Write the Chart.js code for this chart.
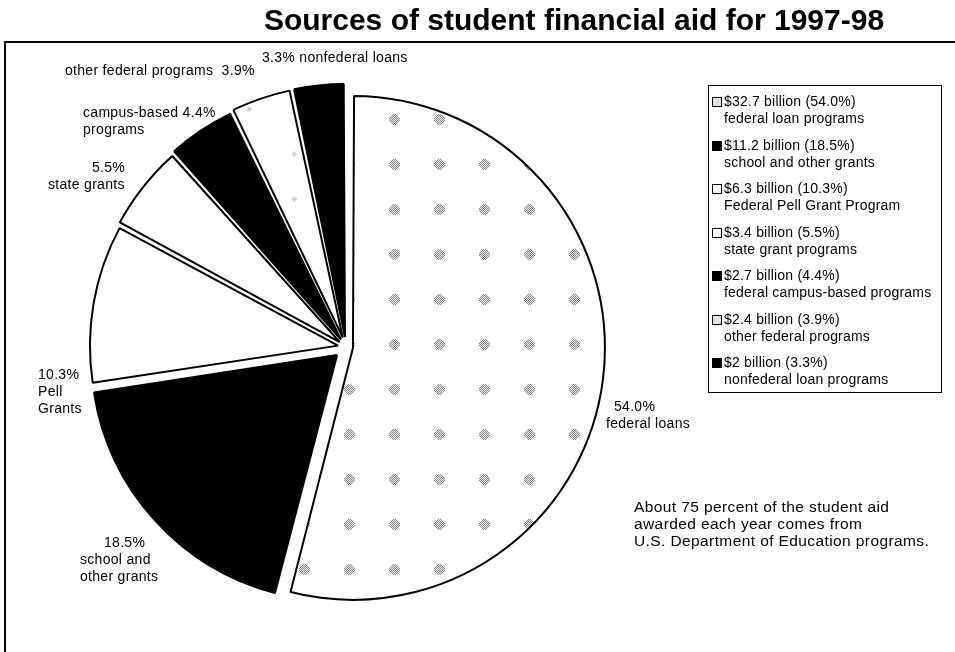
<!DOCTYPE html>
<html lang="en">
<head>
<meta charset="utf-8">
<title>Sources of student financial aid for 1997-98</title>
<script src="https://cdn.jsdelivr.net/npm/chart.js@4/dist/chart.umd.min.js"></script>
<style>
  body { margin: 0; background: #fff; font-family: "Liberation Sans", Arial, sans-serif; color: #000; }
  #wrap { position: relative; width: 955px; height: 652px; overflow: hidden; }
  #grafico-box { position: absolute; left: 0; top: 0; width: 955px; height: 652px; }
  #titulo { position: absolute; left: 0; top: 3px; width: 1148px; text-align: center; font-weight: bold; font-size: 30px; line-height: 34px; }
  #moldura { position: absolute; left: 4px; top: 41px; width: 1000px; height: 700px; border-top: 2px solid #000; border-left: 2px solid #000; }
  .rotulo { position: absolute; font-size: 14px; letter-spacing: 0.3px; line-height: 17px; white-space: nowrap; }
  #legenda { position: absolute; left: 708px; top: 85px; width: 232px; height: 306px; border: 1.5px solid #000; font-size: 14px; letter-spacing: 0.2px; line-height: 17px; }
  .item { position: absolute; left: 3px; white-space: nowrap; }
  .item .sq { display: inline-block; width: 8px; height: 8px; border: 1px solid #000; margin-right: 2px; vertical-align: -1px; }
  .item .l2 { padding-left: 12px; }
  #nota { position: absolute; left: 634px; top: 498px; font-size: 15.5px; letter-spacing: 0.4px; line-height: 17px; white-space: nowrap; }
</style>
</head>
<body>
<div id="wrap">
  <div id="moldura"></div>
  <div id="grafico-box"><canvas id="grafico"></canvas></div>
  <div id="titulo">Sources of student financial aid for 1997-98</div>
  <div id="legenda"></div>
  <div id="nota">About 75 percent of the student aid<br>awarded each year comes from<br>U.S. Department of Education programs.</div>
</div>
<script>
// dados (ordem horária a partir do topo)
const categorias = ['federal loan programs', 'school and other grants', 'Federal Pell Grant Program',
  'state grant programs', 'federal campus-based programs', 'other federal programs', 'nonfederal loan programs'];
const bilhoes = ['32.7', '11.2', '6.3', '3.4', '2.7', '2.4', '2'];
const percentuais = [54.0, 18.5, 10.3, 5.5, 4.4, 3.9, 3.3];
const rotulosFatia = [
  ['54.0%', 'federal loans'],
  ['18.5%', 'school and', 'other grants'],
  ['10.3%', 'Pell', 'Grants'],
  ['5.5%', 'state grants'],
  ['campus-based 4.4%', 'programs'],
  ['other federal programs  3.9%'],
  ['3.3% nonfederal loans']
];

// estilo: posição dos rótulos, deslocamento das fatias, preenchimento
const posRotulos = [
  { left: 606, top: 398, align: [8, 0] },
  { left: 80, top: 534, align: [24, 0, 0] },
  { left: 38, top: 366 },
  { left: 48, top: 159, align: [44, 0] },
  { left: 83, top: 104 },
  { left: 65, top: 62 },
  { left: 262, top: 49 }
];
// Chart.js v4 desloca o arco em offset/4 (e aumenta o raio na mesma medida)
const deslocamentos = [28, 48, 32, 32, 36, 40, 40];
const tipoPreench = ['denso', 'preto', 'branco', 'branco', 'preto', 'leve', 'preto'];

/** textura pontilhada (meio-tom) das fatias de empréstimos federais */
function criarPadrao(intensidade) {
  const c = document.createElement('canvas');
  c.width = 45; c.height = 45;
  const g = c.getContext('2d');
  g.fillStyle = '#fff';
  g.fillRect(0, 0, 45, 45);
  const raio = intensidade === 'denso' ? 5.5 : 2.5;
  g.fillStyle = intensidade === 'denso' ? '#7a7a7a' : '#a8a8a8';
  for (let dx = -6; dx <= 6; dx++) {
    for (let dy = -6; dy <= 6; dy++) {
      if (dx * dx + dy * dy <= raio * raio && (dx + dy) % 2 === 0) g.fillRect(27 + dx, 28 + dy, 1, 1);
    }
  }
  return g.createPattern(c, 'repeat');
}

const cores = { preto: '#000', branco: '#fff' };
const preench = tipoPreench.map(t => (t === 'denso' || t === 'leve') ? criarPadrao(t) : cores[t]);

// legenda em HTML
const leg = document.getElementById('legenda');
categorias.forEach((cat, i) => {
  const d = document.createElement('div');
  d.className = 'item';
  d.style.top = (7 + i * 43.5) + 'px';
  const fundo = tipoPreench[i] === 'preto' ? '#000' : (tipoPreench[i] === 'branco' ? '#fff' : '#e2e2e2');
  d.innerHTML = `<span class="sq" style="background:${fundo}"></span>$${bilhoes[i]} billion (${percentuais[i].toFixed(1)}%)<br><span class="l2">${cat}</span>`;
  leg.appendChild(d);
});

// rótulos das fatias
const wrap = document.getElementById('wrap');
rotulosFatia.forEach((linhas, i) => {
  const d = document.createElement('div');
  d.className = 'rotulo';
  d.style.left = posRotulos[i].left + 'px';
  d.style.top = posRotulos[i].top + 'px';
  d.innerHTML = linhas.map((t, k) => {
    const pad = posRotulos[i].align ? posRotulos[i].align[k] : 0;
    return `<div style="padding-left:${pad}px">${t.replace(/  /g, '&nbsp;&nbsp;')}</div>`;
  }).join('');
  wrap.appendChild(d);
});

new Chart(document.getElementById('grafico'), {
  type: 'pie',
  data: {
    labels: categorias,
    datasets: [{
      data: percentuais,
      backgroundColor: preench,
      borderColor: '#000',
      borderWidth: 2,
      offset: deslocamentos,
      hoverOffset: 0
    }]
  },
  options: {
    responsive: true,
    maintainAspectRatio: false,
    animation: false,
    events: [],
    radius: 245,
    layout: { padding: { left: 0, right: 263, top: 42, bottom: 0 } },
    plugins: { legend: { display: false }, tooltip: { enabled: false }, title: { display: false } }
  }
});
</script>
</body>
</html>
